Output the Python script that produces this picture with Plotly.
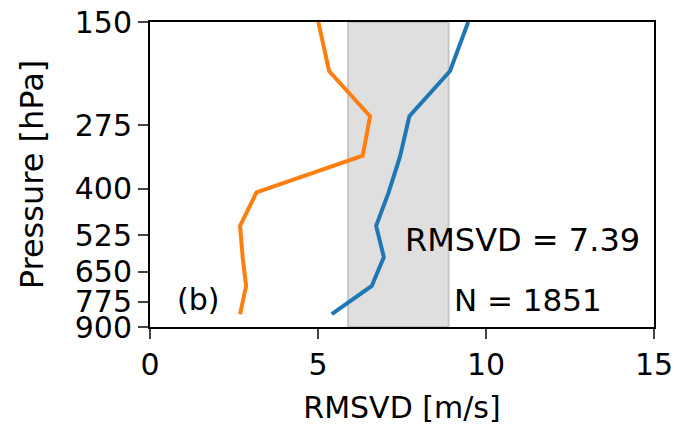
import plotly.graph_objects as go

pressure_blue = [150, 200, 261, 331, 411, 497, 597, 707, 835]
rmsvd_blue = [9.47, 8.93, 7.72, 7.44, 7.09, 6.73, 6.96, 6.60, 5.41]
pressure_orange = [150, 200, 261, 329, 408, 497, 600, 707, 835]
rmsvd_orange = [5.01, 5.33, 6.55, 6.33, 3.17, 2.68, 2.76, 2.86, 2.68]
mean_rmsvd = 7.39
band_halfwidth = 1.5
n_count = 1851
y_ticks = [150, 275, 400, 525, 650, 775, 900]
x_ticks = [0, 5, 10, 15]

FONT = "DejaVu Sans"
fs = 30

fig = go.Figure()
fig.add_shape(type="rect", xref="x", yref="paper",
              x0=mean_rmsvd - band_halfwidth, x1=mean_rmsvd + band_halfwidth,
              y0=0, y1=1, fillcolor="rgba(128,128,128,0.25)",
              line=dict(color="rgba(128,128,128,0.35)", width=2), layer="below")
fig.add_trace(go.Scatter(x=rmsvd_blue, y=pressure_blue, mode="lines",
                         line=dict(color="#1f77b4", width=4), showlegend=False))
fig.add_trace(go.Scatter(x=rmsvd_orange, y=pressure_orange, mode="lines",
                         line=dict(color="#ff7f0e", width=4), showlegend=False))

fig.add_annotation(x=0.502, y=0.285, xref="paper", yref="paper", xanchor="left", yanchor="middle",
                   text=f"RMSVD = {mean_rmsvd}", showarrow=False, font=dict(family=FONT, size=32, color="black"))
fig.add_annotation(x=0.6, y=0.09, xref="paper", yref="paper", xanchor="left", yanchor="middle",
                   text=f"N = {n_count}", showarrow=False, font=dict(family=FONT, size=31, color="black"))
fig.add_annotation(x=0.05, y=0.09, xref="paper", yref="paper", xanchor="left", yanchor="middle",
                   text="(b)", showarrow=False, font=dict(family=FONT, size=fs, color="black"))

fig.update_layout(
    width=676, height=427,
    margin=dict(l=150, r=22, t=22, b=100),
    paper_bgcolor="white", plot_bgcolor="white",
    font=dict(family=FONT, size=fs, color="black"),
    xaxis=dict(range=[0, 15], tickvals=x_ticks, ticks="outside", ticklen=10, tickwidth=2,
               showline=True, linecolor="black", linewidth=2, mirror=True, showgrid=False,
               zeroline=False, automargin=False,
               title=dict(text="RMSVD [m/s]", standoff=16, font=dict(size=fs)),
               tickfont=dict(size=fs)),
    yaxis=dict(type="log", range=[2.9542425, 2.1760913], tickvals=y_ticks,
               ticktext=[str(v) for v in y_ticks], ticks="outside", ticklen=10, tickwidth=2,
               showline=True, linecolor="black", linewidth=2, mirror=True, showgrid=False,
               zeroline=False, automargin=False,
               title=dict(text="Pressure [hPa]", standoff=22, font=dict(size=32)),
               tickfont=dict(size=fs)),
)
fig.write_html("out.html")
